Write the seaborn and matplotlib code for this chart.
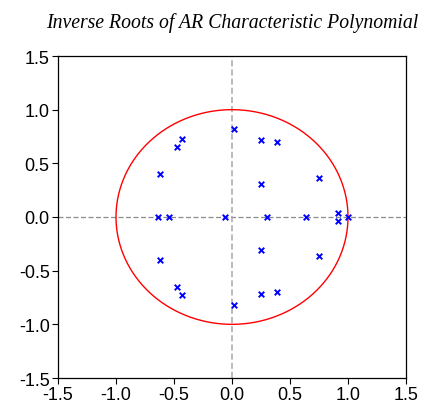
import numpy as np
import pandas as pd
import matplotlib
matplotlib.use("Agg")
import matplotlib.pyplot as plt
import seaborn as sns

real_part = [0.02, 0.02, 0.25, 0.25, 0.39, 0.39, -0.43, -0.43, -0.47, -0.47,
             -0.62, -0.62, 0.25, 0.25, 0.75, 0.75, 0.91, 0.91,
             -0.64, -0.54, -0.06, 0.30, 0.64, 1.00]
imag_part = [0.82, -0.82, 0.72, -0.72, 0.70, -0.70, 0.73, -0.73, 0.65, -0.65,
             0.40, -0.40, 0.31, -0.31, 0.36, -0.36, 0.035, -0.035,
             0.0, 0.0, 0.0, 0.0, 0.0, 0.0]
tick_values = [-1.5, -1.0, -0.5, 0.0, 0.5, 1.0, 1.5]
title_text = "Inverse Roots of AR Characteristic Polynomial"

sns.set_theme(style="white")
plt.rcParams['font.family'] = ['Liberation Sans', 'DejaVu Sans']

fig = plt.figure(figsize=(4.22, 4.06), dpi=100)
ax = fig.add_axes([58/422, 1-379/406, (406-58)/422, (379-57)/406])

theta = np.linspace(0, 2*np.pi, 400)
ax.plot(np.cos(theta), np.sin(theta), color="red", lw=1.0, zorder=2)
ax.axhline(0, color="#8c8c8c", lw=0.9, ls=(0, (4, 2)), zorder=1)
ax.axvline(0, color="#a8a8a8", lw=1.1, ls=(0, (4, 2)), zorder=1)

df = pd.DataFrame({"re": real_part, "im": imag_part})
sns.scatterplot(data=df, x="re", y="im", marker="x", color="blue", s=16,
                linewidth=1.4, ax=ax, zorder=3)

ax.set_xlim(-1.5, 1.5)
ax.set_ylim(-1.5, 1.5)
ax.set_xticks(tick_values)
ax.set_yticks(tick_values)
ax.set_xticklabels([f"{v:.1f}" for v in tick_values])
ax.set_yticklabels([f"{v:.1f}" for v in tick_values])
ax.set_xlabel("")
ax.set_ylabel("")
ax.tick_params(axis="both", which="major", direction="out", length=4.5, width=0.8,
               color="black", labelsize=13, pad=1.5, bottom=True, left=True,
               labelcolor="black")
for sp in ax.spines.values():
    sp.set_color("black")
    sp.set_linewidth(0.9)

fig.text(232/422, 1-23/406, title_text, ha="center", va="center", color="black",
         family=["Liberation Serif"], style="italic", fontsize=14.2)

fig.savefig("out.png", dpi=100)
